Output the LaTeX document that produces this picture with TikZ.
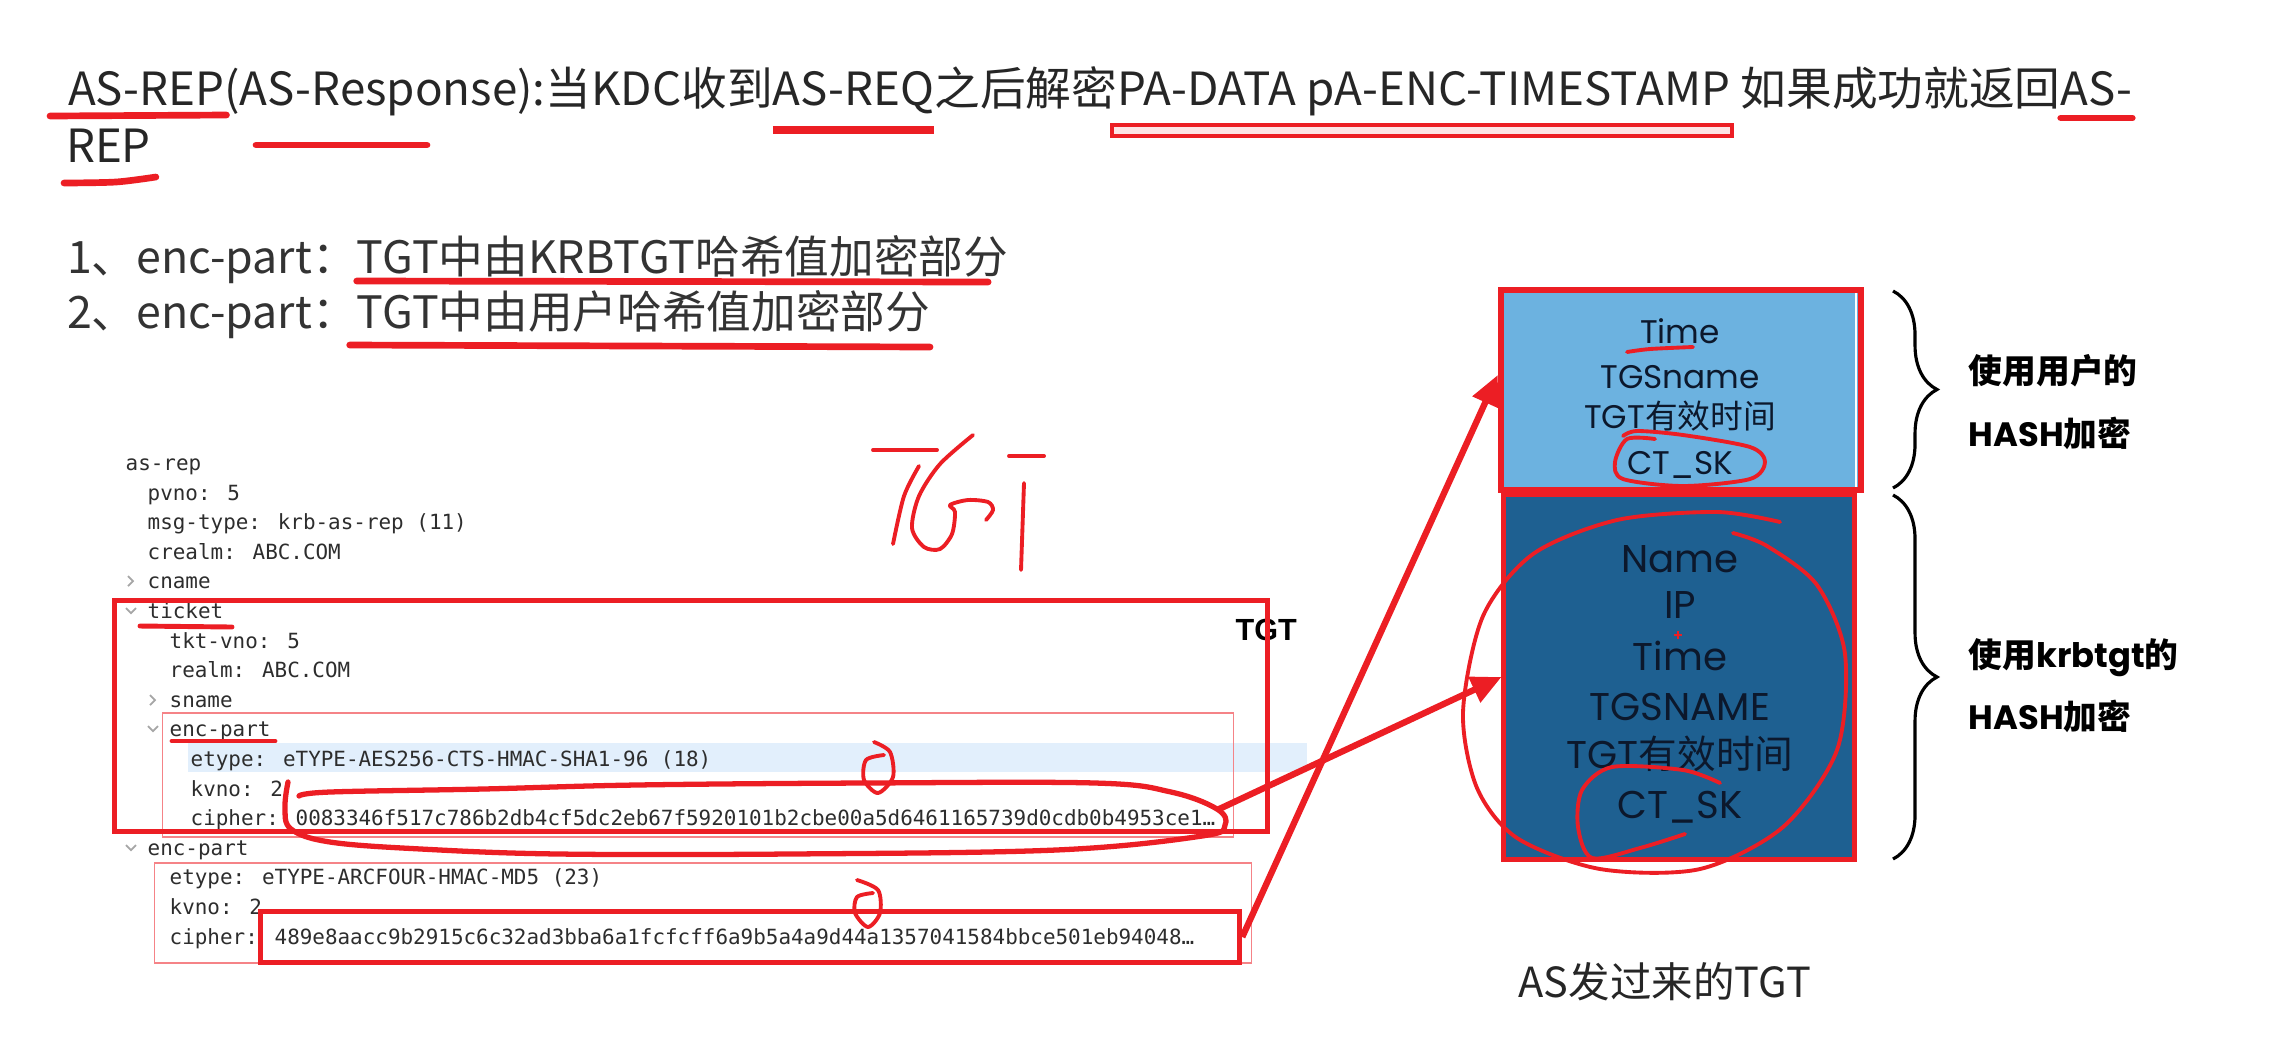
\documentclass[tikz,border=0pt]{standalone}
\usepackage{fontspec}
\setmainfont{Noto Sans CJK SC}
\newfontfamily\cjk{Noto Sans CJK SC}
\newfontfamily\pop{Poppins}
\newfontfamily\mono{DejaVu Sans Mono}
\newfontfamily\arial{Liberation Sans}
\usetikzlibrary{arrows.meta,positioning,calc,decorations.pathreplacing}
\definecolor{PenRed}{RGB}{236,30,36}
\definecolor{SkyBlue}{RGB}{108,178,224}
\definecolor{DeepBlue}{RGB}{30,96,145}
\definecolor{RowBlue}{RGB}{226,239,252}
\definecolor{InkGray}{RGB}{45,45,45}
\definecolor{NavyInk}{RGB}{12,24,44}
\tikzset{
  headline/.style={inner sep=0pt,outer sep=0pt,font=\fontsize{13}{15}\selectfont,text=black!85},
  itemline/.style={inner sep=0pt,outer sep=0pt,font=\fontsize{12.7}{14}\selectfont,text=black!80},
  pkt/.style={anchor=base west,inner sep=0pt,font=\mono\fontsize{5.95}{7}\selectfont,text=InkGray},
  fieldtop/.style={anchor=base,inner sep=0pt,font=\pop\fontsize{9.3}{11}\selectfont,text=NavyInk},
  fieldlow/.style={anchor=base,inner sep=0pt,font=\pop\fontsize{11}{13}\selectfont,text=NavyInk},
  sidenote/.style={anchor=base west,inner sep=0pt,font=\bfseries\fontsize{9.6}{11}\selectfont},
  chev/.style={draw=gray!70,line width=0.5pt},
  pen/.style={PenRed,line width=1.1pt,line cap=round,line join=round},
  penbold/.style={PenRed,line width=1.9pt,line cap=round},
  redbox/.style={draw=PenRed,line width=1.4pt,inner sep=0pt},
  thinbox/.style={draw=PenRed!55,line width=0.35pt,inner sep=0pt},
  penarrow/.style={-{Triangle[length=0.3cm,width=0.27cm]},PenRed,line width=1.8pt},
  curly/.style={decorate,decoration={brace,amplitude=0.44cm},line width=0.9pt}
}

\begin{document}
\begin{tikzpicture}[x=0.01cm,y=-0.01cm]
  \useasboundingbox[fill=white] (0,0) rectangle (2283,1063);
  % heading
  \node[headline,anchor=base west] (t1) at (68,105) {AS-REP};
  \node[headline,base right=0pt of t1] (t2) {(AS-Response):当KDC收到};
  \node[headline,base right=0pt of t2] (t3) {AS-REQ};
  \node[headline,base right=0pt of t3] (t4) {之后解密};
  \node[headline,base right=0pt of t4] (t5) {PA-DATA pA-ENC-TIMESTAMP};
  \node[headline,base right=3pt of t5] (t6) {如果成功就返回};
  \node[headline,base right=0pt of t6] (t7) {AS-};
  \node[headline,anchor=base west] (t8) at (66,162) {REP};
  \draw[penbold] ($(t1.base west)+(-18,11)$) -- ($(t1.base east)+(2,10)$);
  \draw[penbold] (256,145) -- (427,145);
  \draw[PenRed,line width=2.1pt] ($(t3.base west)+(0,25)$) -- ($(t3.base east)+(0,25)$);
  \draw[PenRed,line width=1pt,fill=PenRed!12] ($(t5.base west)+(-5,20)$) rectangle ($(t5.base east)+(2,31)$);
  \draw[penbold] ($(t7.base west)+(0,13)$) -- ($(t7.base east)+(0,13)$);
  \draw[penbold] plot[smooth] coordinates {($(t8.base west)+(-2,21)$) ($(t8.base west)+(50,20)$) ($(t8.base east)+(5,15)$)};
  % two enc-part lines
  \node[itemline,anchor=base west] (i1a) at (67,273) {1、enc-part：};
  \node[itemline,base right=0pt of i1a] (i1b) {TGT中由KRBTGT哈希值加密部分};
  \node[itemline,anchor=base west] (i2a) at (67,328) {2、enc-part：};
  \node[itemline,base right=0pt of i2a] (i2b) {TGT中由用户哈希值加密部分};
  \draw[penbold] ($(i1b.base west)+(0,8)$) -- ($(i1b.base east)+(-20,9)$);
  \draw[penbold] ($(i2b.base west)+(-7,17)$) -- ($(i2b.base east)+(0,19)$);
  % packet tree
  \fill[RowBlue] (188,743) rectangle (1307,772);
  \node[pkt] (asrep) at (125,470) {as-rep};
  \node[pkt] (pvno) at (147,500) {pvno: 5};
  \node[pkt] (msgtype) at (147,529) {msg-type: krb-as-rep (11)};
  \node[pkt] (crealm) at (147,559) {crealm: ABC.COM};
  \node[pkt] (cname) at (147,588) {cname};
  \node[pkt] (ticket) at (147,618) {ticket};
  \node[pkt] (tktvno) at (169,648) {tkt-vno: 5};
  \node[pkt] (realm) at (169,677) {realm: ABC.COM};
  \node[pkt] (sname) at (169,707) {sname};
  \node[pkt] (encA) at (169,736) {enc-part};
  \node[pkt] (etypeA) at (190,766) {etype: eTYPE-AES256-CTS-HMAC-SHA1-96 (18)};
  \node[pkt] (kvnoA) at (190,796) {kvno: 2};
  \node[pkt] (cipherA) at (190,825) {cipher: 0083346f517c786b2db4cf5dc2eb67f5920101b2cbe00a5d6461165739d0cdb0b4953ce1…};
  \node[pkt] (encB) at (147,855) {enc-part};
  \node[pkt] (etypeB) at (169,884) {etype: eTYPE-ARCFOUR-HMAC-MD5 (23)};
  \node[pkt] (kvnoB) at (169,914) {kvno: 2};
  \node[pkt] (cipherB) at (169,944) {cipher: 489e8aacc9b2915c6c32ad3bba6a1fcfcff6a9b5a4a9d44a1357041584bbce501eb94048…};
  \draw[chev] (128,576) -- (133,581) -- (128,586);
  \draw[chev] (126,608) -- (131,613) -- (136,608);
  \draw[chev] (150,695) -- (155,700) -- (150,705);
  \draw[chev] (148,726) -- (153,731) -- (158,726);
  \draw[chev] (126,845) -- (131,850) -- (136,845);
  \node[font=\arial\bfseries\fontsize{8.7}{10}\selectfont,anchor=base west,inner sep=0pt] (tgtlbl) at (1235,640) {TGT};
  \node[thinbox,minimum width=10.70cm,minimum height=1.24cm] (encAbox) at (698,775) {};
  \node[thinbox,minimum width=10.96cm,minimum height=1.00cm] (encBbox) at (703,913) {};
  \node[redbox,minimum width=11.53cm,minimum height=2.30cm] (tktbox) at (691,716) {};
  \node[redbox,minimum width=9.79cm,minimum height=0.51cm] (c2box) at (750,937) {};
  % hand marks on the packet
  \draw[pen,line width=1.4pt] (140,626) -- (232,627);
  \draw[pen,line width=1.4pt] (172,741) -- (275,741);
  \draw[pen,line width=1.5pt] plot[smooth,tension=0.6] coordinates {(299,796) (330,792) (483,789) (636,785) (865,783) (1095,783) (1171,792) (1217,809) (1225,825) (1202,836) (1056,850) (789,854) (559,854) (421,849) (330,842) (291,829) (285,807) (288,782)};
  \coordinate (e1end) at (1217,810);
  \draw[pen] plot[smooth] coordinates {(874,742) (890,752) (893,777) (878,793) (864,780) (866,760) (884,755)};
  \draw[pen] plot[smooth] coordinates {(857,880) (878,890) (880,913) (868,927) (855,913) (857,897) (873,893)};
  % handwritten TGT
  \draw[pen] (873,450) -- (937,450);
  \draw[pen] plot[smooth] coordinates {(919,466) (904,496) (893,544)};
  \draw[pen] plot[smooth] coordinates {(973,435) (940,464) (919,496) (912,528) (924,547) (940,549) (952,534) (955,512) (950,505) (968,500) (988,502) (993,510) (986,520)};
  \draw[pen] (1009,456) -- (1044,456);
  \draw[pen] (1024,483) -- (1021,570);
  % TGT layout
  \node[fill=DeepBlue,redbox,minimum width=3.50cm,minimum height=3.64cm] (kbox) at (1679,677) {};
  \node[fill=SkyBlue,redbox,line width=1.8pt,minimum width=3.60cm,minimum height=2.00cm] (ubox) at (1681,390) {};
  \draw[white,line width=0.5pt] (1856,293) -- (1856,487);
  \node[fieldtop] (tTime) at (1680,343) {Time};
  \node[fieldtop] (tTGS) at (1680,388) {TGSname};
  \node[fieldtop] (tLife) at (1680,428) {TGT{\cjk 有效时间}};
  \node[fieldtop] (tKey) at (1680,474) {CT\_SK};
  \node[fieldlow] (kName) at (1680,572) {Name};
  \node[fieldlow] (kIP) at (1680,618) {IP};
  \node[fieldlow] (kTime) at (1680,670) {Time};
  \node[fieldlow] (kTGS) at (1680,720) {TGSNAME};
  \node[fieldlow] (kLife) at (1680,768) {TGT{\cjk 有效时间}};
  \node[fieldlow] (kKey) at (1680,818) {CT\_SK};
  \draw[pen] plot[smooth] coordinates {(1627,352) (1650,349) (1693,347)};
  \draw[pen] plot[smooth] coordinates {(1655,439) (1627,439) (1615,462) (1623,479) (1683,486) (1750,479) (1765,462) (1750,447) (1683,435) (1637,431) (1623,436)};
  \draw[pen] plot[smooth] coordinates {(1780,522) (1717,512) (1617,520) (1533,554) (1483,616) (1463,712) (1477,788) (1517,838) (1600,869) (1700,869) (1783,827) (1837,750) (1845,654) (1817,585) (1767,546) (1733,533)};
  \draw[pen] plot[smooth] coordinates {(1720,783) (1683,770) (1612,767) (1582,790) (1578,827) (1592,858) (1640,848) (1685,834)};
  \draw[PenRed,line width=0.6pt] (1674,635) -- (1682,635) (1678,631) -- (1678,639);
  \draw[curly] (1893,291) -- (1893,488);
  \draw[curly] (1893,495) -- (1893,859);
  \node[sidenote] (userA) at (1968,383) {使用用户的};
  \node[sidenote] (userB) at (1968,446) {{\pop HASH}加密};
  \node[sidenote] (krbA) at (1968,667) {使用{\pop krbtgt}的};
  \node[sidenote] (krbB) at (1968,729) {{\pop HASH}加密};
  \node[font=\fontsize{11.8}{13}\selectfont,anchor=base west,inner sep=0pt,text=black!85] (caption) at (1518,997) {AS发过来的TGT};
  % arrows
  \draw[penarrow] (e1end) -- (kbox.west);
  \draw[penarrow] (c2box.east) -- ($(ubox.west)+(0,-15)$);
\end{tikzpicture}
\end{document}
